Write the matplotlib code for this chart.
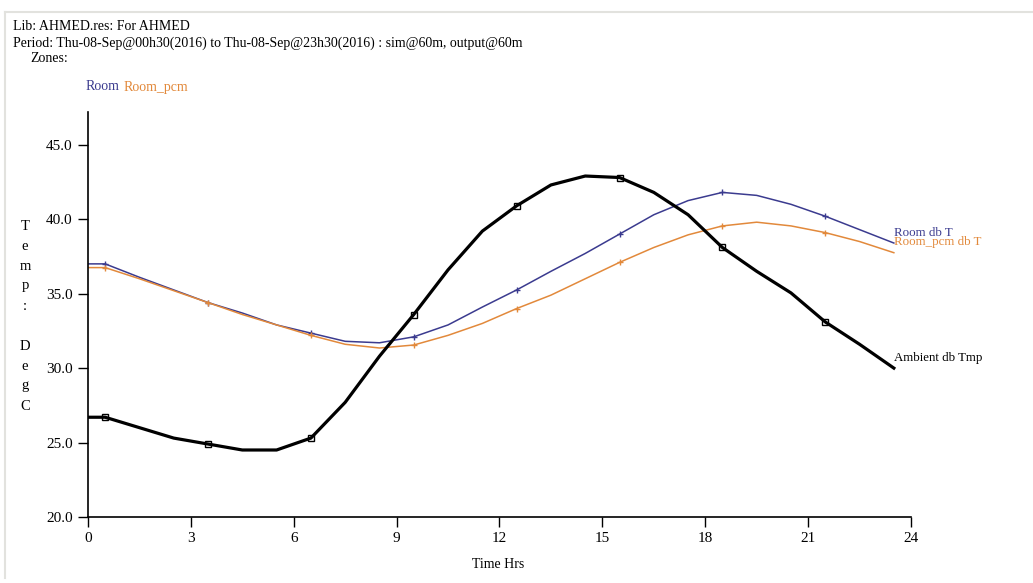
import matplotlib
matplotlib.use("Agg")
import matplotlib.pyplot as plt
import numpy as np

plt.rcParams['font.family'] = ['Liberation Serif', 'DejaVu Serif']

hours = [0, 0.5, 1.5, 2.5, 3.5, 4.5, 5.5, 6.5, 7.5, 8.5, 9.5, 10.5, 11.5,
         12.5, 13.5, 14.5, 15.5, 16.5, 17.5, 18.5, 19.5, 20.5, 21.5, 22.5, 23.5]
ambient = [26.7, 26.7, 26.0, 25.3, 24.9, 24.5, 24.5, 25.3, 27.7, 30.8, 33.6,
           36.6, 39.2, 40.9, 42.3, 42.9, 42.8, 41.8, 40.3, 38.1, 36.5, 35.05,
           33.1, 31.6, 30.0]
room = [37.0, 37.0, 36.1, 35.25, 34.4, 33.7, 32.9, 32.35, 31.8, 31.7, 32.1,
        32.9, 34.1, 35.25, 36.5, 37.7, 39.0, 40.3, 41.25, 41.8, 41.6, 41.0,
        40.2, 39.3, 38.4]
room_pcm = [36.75, 36.75, 36.0, 35.2, 34.4, 33.6, 32.9, 32.2, 31.6, 31.35,
            31.55, 32.2, 33.0, 34.0, 34.9, 36.0, 37.1, 38.1, 38.95, 39.55,
            39.8, 39.55, 39.1, 38.5, 37.75]
xticks = [0, 3, 6, 9, 12, 15, 18, 21, 24]
yticks = [20, 25, 30, 35, 40, 45]

BLUE = '#3b3b8f'
ORANGE = '#e2893b'

W, H = 1033, 583
fig = plt.figure(figsize=(W / 100, H / 100), dpi=100)

# light frame
fig.add_artist(plt.Line2D([5 / W, 5 / W], [1 - 12 / H, 1 - 578 / H], color='#e2e2de', lw=1.5))
fig.add_artist(plt.Line2D([5 / W, 1.0], [1 - 12 / H, 1 - 12 / H], color='#e2e2de', lw=1.5))

ax = fig.add_axes([88 / W, 1 - 517 / H, (911 - 88) / W, (517 - 112) / H])
mk = list(range(1, len(hours), 3))
ax.plot(hours, room, color=BLUE, lw=1.1, marker='+', ms=4, markevery=mk)
ax.plot(hours, room_pcm, color=ORANGE, lw=1.1, marker='+', ms=4, markevery=mk)
ax.plot(hours, ambient, color='black', lw=2.3, marker='s', ms=4,
        mfc='none', mew=1.0, markevery=mk)

ax.set_xlim(0, 24)
ax.set_ylim(20, 47.2)
ax.set_xticks(xticks)
ax.set_xticklabels([str(t) for t in xticks])
ax.set_yticks(yticks)
ax.set_yticklabels([f"{t:.1f}" for t in yticks])
for s in ['top', 'right']:
    ax.spines[s].set_visible(False)
for s in ['left', 'bottom']:
    ax.spines[s].set_linewidth(1.2)
ax.tick_params(direction='out', length=7, width=1, labelsize=11, pad=4)

# series end labels
ax.text(hours[-1], room[-1] + 0.7, 'Room db T', color=BLUE, fontsize=9.3,
        va='center', ha='left', clip_on=False)
ax.text(hours[-1], room_pcm[-1] + 0.7, 'Room_pcm db T', color=ORANGE, fontsize=9.3,
        va='center', ha='left', clip_on=False)
ax.text(hours[-1], ambient[-1] + 0.7, 'Ambient db Tmp', color='black', fontsize=9.3,
        va='center', ha='left', clip_on=False)

# header text
fig.text(13 / W, 1 - 27 / H, 'Lib: AHMED.res: For AHMED', fontsize=10, va='center', ha='left')
fig.text(13 / W, 1 - 43 / H,
         'Period: Thu-08-Sep@00h30(2016) to Thu-08-Sep@23h30(2016) : sim@60m, output@60m',
         fontsize=10, va='center', ha='left')
fig.text(30 / W, 1 - 59 / H, 'Zones:', fontsize=10, va='center', ha='left')
fig.text(86 / W, 1 - 87 / H, 'Room', fontsize=10, va='center', ha='left', color=BLUE)
fig.text(124 / W, 1 - 87 / H, 'Room_pcm', fontsize=10, va='center', ha='left', color=ORANGE)

# vertical stacked y label
ylab = ['T', 'e', 'm', 'p', ':', '', 'D', 'e', 'g', 'C']
for i, ch in enumerate(ylab):
    fig.text(25 / W, 1 - (226 + i * 20.0) / H, ch, fontsize=10.5, va='center', ha='center')

fig.text(498 / W, 1 - 564 / H, 'Time Hrs', fontsize=10, va='center', ha='center')

fig.savefig('out.png', dpi=100)
